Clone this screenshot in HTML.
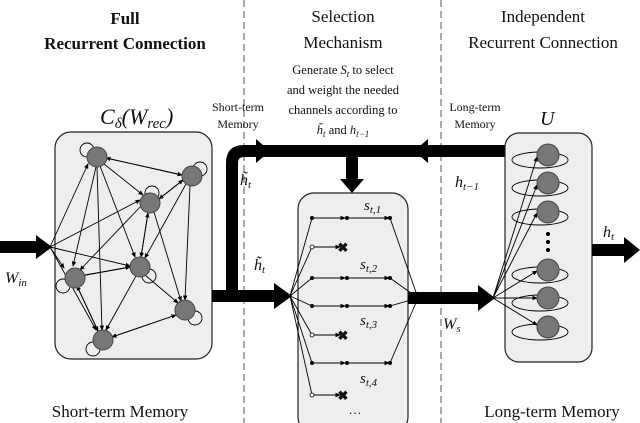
<!DOCTYPE html><html><head><style>body{margin:0;background:#fff}svg{display:block}text{font-family:"Liberation Serif",serif;fill:#111}</style></head><body>
<svg width="640" height="423" viewBox="0 0 640 423" xmlns="http://www.w3.org/2000/svg">
<defs><marker id="a" markerWidth="6" markerHeight="6" refX="5" refY="3" orient="auto"><path d="M0,0.5L6,3L0,5.5z" fill="#000"/></marker></defs>
<line x1="244" y1="0" x2="244" y2="423" stroke="#aaa" stroke-width="2" stroke-dasharray="7,4"/>
<line x1="441" y1="0" x2="441" y2="423" stroke="#aaa" stroke-width="2" stroke-dasharray="7,4"/>
<text x="125" y="24" font-size="17" text-anchor="middle" font-weight="bold">Full</text>
<text x="125" y="49" font-size="17" text-anchor="middle" font-weight="bold">Recurrent Connection</text>
<text x="343" y="22" font-size="17" text-anchor="middle">Selection</text>
<text x="343" y="48" font-size="17" text-anchor="middle">Mechanism</text>
<text x="543" y="22" font-size="17" text-anchor="middle">Independent</text>
<text x="543" y="48" font-size="17" text-anchor="middle">Recurrent Connection</text>
<g font-size="12.5" text-anchor="middle"><text x="343" y="74">Generate <tspan font-style="italic">S<tspan font-size="9" dy="3">t</tspan></tspan><tspan dy="-3"> to select</tspan></text>
<text x="343" y="94">and weight the needed</text><text x="343" y="114">channels according to</text>
<text x="343" y="134"><tspan font-style="italic">h̃<tspan font-size="9" dy="3">t</tspan></tspan><tspan dy="-3"> and </tspan><tspan font-style="italic">h<tspan font-size="9" dy="3">t−1</tspan></tspan></text></g>
<g font-size="12"><text x="238" y="111" text-anchor="middle">Short-term</text><text x="238" y="128" text-anchor="middle">Memory</text>
<text x="475" y="111" text-anchor="middle">Long-term</text><text x="475" y="128" text-anchor="middle">Memory</text></g>
<text x="100" y="124" font-size="22" font-style="italic">C<tspan font-size="15" dy="4">δ</tspan><tspan dy="-4">(W</tspan><tspan font-size="15" dy="4">rec</tspan><tspan dy="-4">)</tspan></text>
<text x="540" y="125" font-size="20" font-style="italic">U</text>
<!-- left box -->
<rect x="55" y="132" width="157" height="227" rx="16" fill="#eee" stroke="#222" stroke-width="1.2"/>
<g stroke="#000" stroke-width="0.9" fill="none" marker-end="url(#a)">
<line x1="50" y1="247" x2="88" y2="164"/><line x1="50" y1="247" x2="140" y2="200"/><line x1="50" y1="247" x2="130" y2="266"/><line x1="50" y1="247" x2="64" y2="268"/><line x1="50" y1="247" x2="96" y2="330"/>
<line x1="106" y1="158" x2="182" y2="175"/><line x1="182" y1="175" x2="106" y2="158"/><line x1="104" y1="164" x2="143" y2="195"/><line x1="96" y1="167" x2="73" y2="266"/><line x1="97" y1="167" x2="102" y2="330"/><line x1="100" y1="166" x2="135" y2="257"/>
<line x1="183" y1="180" x2="159" y2="199"/><line x1="159" y1="199" x2="183" y2="180"/><line x1="190" y1="186" x2="185" y2="300"/><line x1="186" y1="184" x2="145" y2="258"/>
<line x1="148" y1="213" x2="141" y2="257"/><line x1="141" y1="257" x2="148" y2="213"/><line x1="142" y1="205" x2="80" y2="270"/><line x1="154" y1="212" x2="181" y2="301"/>
<line x1="80" y1="276" x2="130" y2="267"/><line x1="130" y1="267" x2="80" y2="276"/><line x1="136" y1="276" x2="106" y2="330"/><line x1="145" y1="275" x2="178" y2="303"/>
<line x1="77" y1="286" x2="98" y2="331"/><line x1="98" y1="331" x2="77" y2="286"/><line x1="112" y1="337" x2="176" y2="315"/><line x1="176" y1="315" x2="112" y2="337"/>
</g>
<g fill="none" stroke="#000" stroke-width="0.9"><circle cx="87" cy="150" r="7"/><circle cx="200" cy="169" r="7"/><circle cx="152" cy="193" r="7"/><circle cx="63" cy="286" r="7"/><circle cx="149" cy="276" r="7"/><circle cx="195" cy="318" r="7"/><circle cx="93" cy="349" r="7"/></g>
<g fill="#777" stroke="#444"><circle cx="97" cy="157" r="10"/><circle cx="192" cy="176" r="10"/><circle cx="150" cy="203" r="10"/><circle cx="75" cy="278" r="10"/><circle cx="140" cy="267" r="10"/><circle cx="185" cy="310" r="10"/><circle cx="103" cy="340" r="10"/></g>
<!-- thick arrows -->
<rect x="0" y="241" width="38" height="12"/><path d="M36,235L52,247L36,259z"/>
<text x="5" y="283" font-size="16" font-style="italic">W<tspan font-size="11" dy="3">in</tspan></text>
<path d="M212,290H276V302H212z"/><path d="M274,283L292,296L274,309z"/>
<path d="M226,296V163Q226,145 244,145H505V157H244Q238,157 238,163V296z"/>
<path d="M256,139L270,151L256,163z"/><path d="M428,139L414,151L428,163z"/>
<rect x="346" y="155" width="12" height="26"/><path d="M340,179L364,179L352,193z"/>
<text x="240" y="185" font-size="16" font-style="italic">h̃<tspan font-size="11" dy="3">t</tspan></text>
<text x="254" y="270" font-size="16" font-style="italic">h̃<tspan font-size="11" dy="3">t</tspan></text>
<text x="455" y="187" font-size="16" font-style="italic">h<tspan font-size="11" dy="3">t−1</tspan></text>
<text x="443" y="329" font-size="16" font-style="italic">W<tspan font-size="11" dy="3">s</tspan></text>
<text x="603" y="237" font-size="16" font-style="italic">h<tspan font-size="11" dy="3">t</tspan></text>
<!-- middle box -->
<rect x="298" y="193" width="110" height="240" rx="16" fill="#eee" stroke="#222" stroke-width="1.2"/>
<g stroke="#000" stroke-width="0.9" fill="none">
<line x1="290" y1="296" x2="312" y2="218"/><line x1="290" y1="296" x2="312" y2="247"/><line x1="290" y1="296" x2="312" y2="278"/><line x1="290" y1="296" x2="312" y2="306"/><line x1="290" y1="296" x2="312" y2="335"/><line x1="290" y1="296" x2="312" y2="363"/><line x1="290" y1="296" x2="312" y2="395"/>
<g marker-end="url(#a)"><line x1="312" y1="218" x2="345" y2="218"/><line x1="347" y1="218" x2="389" y2="218"/><line x1="312" y1="278" x2="345" y2="278"/><line x1="347" y1="278" x2="389" y2="278"/><line x1="312" y1="306" x2="345" y2="306"/><line x1="347" y1="306" x2="389" y2="306"/><line x1="312" y1="363" x2="345" y2="363"/><line x1="347" y1="363" x2="389" y2="363"/>
<line x1="312" y1="247" x2="340" y2="247"/><line x1="312" y1="335" x2="340" y2="335"/><line x1="312" y1="395" x2="340" y2="395"/></g>
<path d="M390,218L418,298L390,278M390,306L418,298L390,363"/>
</g>
<g fill="#000"><circle cx="312" cy="218" r="2"/><circle cx="347" cy="218" r="2"/><circle cx="390" cy="218" r="2"/><circle cx="312" cy="278" r="2"/><circle cx="347" cy="278" r="2"/><circle cx="390" cy="278" r="2"/><circle cx="312" cy="306" r="2"/><circle cx="347" cy="306" r="2"/><circle cx="390" cy="306" r="2"/><circle cx="312" cy="363" r="2"/><circle cx="347" cy="363" r="2"/><circle cx="390" cy="363" r="2"/></g>
<g fill="#fff" stroke="#000" stroke-width="0.8"><circle cx="312" cy="247" r="2"/><circle cx="312" cy="335" r="2"/><circle cx="312" cy="395" r="2"/></g>
<g font-size="13" font-weight="bold" text-anchor="middle"><text x="343" y="252">✖</text><text x="343" y="340">✖</text><text x="343" y="400">✖</text></g>
<g font-size="15" font-style="italic"><text x="364" y="210">s<tspan font-size="11" dy="3">t,1</tspan></text><text x="360" y="269">s<tspan font-size="11" dy="3">t,2</tspan></text><text x="360" y="325">s<tspan font-size="11" dy="3">t,3</tspan></text><text x="360" y="383">s<tspan font-size="11" dy="3">t,4</tspan></text></g>
<text x="355" y="414" font-size="13" text-anchor="middle">…</text>
<path d="M408,292H480V304H408z"/><path d="M478,285L495,298L478,311z"/>
<!-- right box -->
<rect x="505" y="133" width="87" height="229" rx="14" fill="#eee" stroke="#222" stroke-width="1.2"/>
<g fill="none" stroke="#000" stroke-width="0.9">
<ellipse cx="540" cy="160" rx="28" ry="8"/><ellipse cx="540" cy="188" rx="28" ry="8"/><ellipse cx="540" cy="217" rx="28" ry="8"/><ellipse cx="540" cy="275" rx="28" ry="8"/><ellipse cx="540" cy="303" rx="28" ry="8"/><ellipse cx="540" cy="332" rx="28" ry="8"/>
<g marker-end="url(#a)"><line x1="493" y1="298" x2="537" y2="157"/><line x1="493" y1="298" x2="537" y2="185"/><line x1="493" y1="298" x2="537" y2="213"/><line x1="493" y1="298" x2="537" y2="271"/><line x1="493" y1="298" x2="537" y2="298"/><line x1="493" y1="298" x2="537" y2="325"/></g>
</g>
<g fill="#777" stroke="#444"><circle cx="548" cy="155" r="11"/><circle cx="548" cy="183" r="11"/><circle cx="548" cy="212" r="11"/><circle cx="548" cy="270" r="11"/><circle cx="548" cy="298" r="11"/><circle cx="548" cy="327" r="11"/></g>
<g fill="#000"><circle cx="548" cy="234" r="2"/><circle cx="548" cy="242" r="2"/><circle cx="548" cy="250" r="2"/></g>
<rect x="592" y="244" width="34" height="12"/><path d="M624,237L640,250L624,263z"/>
<text x="120" y="417" font-size="17" text-anchor="middle">Short-term Memory</text>
<text x="552" y="417" font-size="17" text-anchor="middle">Long-term Memory</text>
</svg></body></html>
